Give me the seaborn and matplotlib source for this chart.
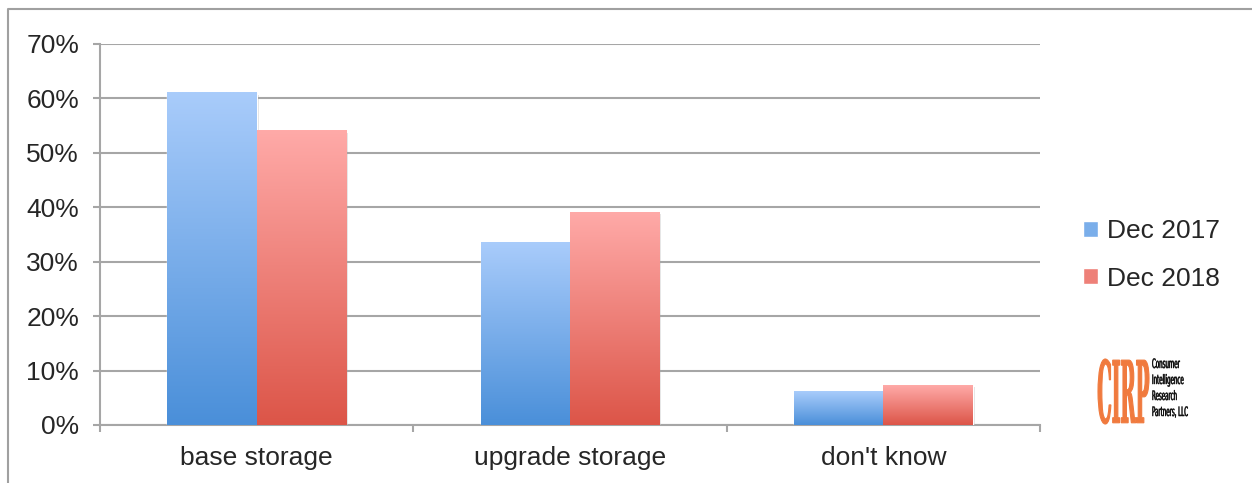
import numpy as np
import pandas as pd
import matplotlib
matplotlib.use('Agg')
import matplotlib.pyplot as plt
import seaborn as sns
from matplotlib.patches import Patch, PathPatch
from matplotlib.textpath import TextPath
from matplotlib.font_manager import FontProperties
from matplotlib.transforms import Affine2D
from matplotlib.lines import Line2D
from matplotlib.ticker import PercentFormatter, FixedLocator

# Datos
categories = ['base storage', 'upgrade storage', "don't know"]
periods = ['Dec 2017', 'Dec 2018']
dec_2017 = [0.61, 0.336, 0.062]
dec_2018 = [0.541, 0.391, 0.073]

# Colores del degradado (arriba, abajo)
grad_colors = {
    'Dec 2017': ('#a9ccfb', '#4a8fd9'),
    'Dec 2018': ('#ffaaa8', '#dc5548'),
}

df = pd.DataFrame({
    'category': categories * 2,
    'period': [periods[0]] * 3 + [periods[1]] * 3,
    'value': dec_2017 + dec_2018,
})

sns.set_style('white')
plt.rcParams['font.family'] = ['Liberation Sans', 'DejaVu Sans']

W, H = 1252, 483
fig = plt.figure(figsize=(W / 100, H / 100), dpi=100)
ax = fig.add_axes([100 / W, 58 / H, 940 / W, 381 / H])

sns.barplot(data=df, x='category', y='value', hue='period', order=categories,
            hue_order=periods, palette=[grad_colors[p][1] for p in periods],
            width=0.57, gap=0, ax=ax, legend=False, saturation=1, zorder=3)

# Degradado vertical en cada barra
for period, cont in zip(periods, ax.containers):
    top, bottom = [np.array(matplotlib.colors.to_rgb(c)) for c in grad_colors[period]]
    t = np.linspace(0, 1, 256)[:, None, None]
    img = bottom * (1 - t) + top * t
    for bar in cont:
        x0, w, h = bar.get_x(), bar.get_width(), bar.get_height()
        # sombra suave
        ax.add_patch(plt.Rectangle((x0 + 0.006, -0.004), w, h, color='#000000',
                                   alpha=0.12, zorder=2, lw=0))
        ax.imshow(img, extent=(x0, x0 + w, 0, h), origin='lower', aspect='auto',
                  interpolation='bilinear', zorder=4)

ax.set_xlim(-0.5, 2.5)
ax.set_ylim(0, 0.7)
ax.set_aspect('auto')

grid_c = '#a6a6a6'
ax.set_yticks(np.arange(0, 0.71, 0.1))
ax.yaxis.set_major_formatter(PercentFormatter(1.0, decimals=0))
ax.yaxis.grid(True, color=grid_c, lw=1.5, zorder=0)
ax.set_axisbelow(True)
ax.tick_params(axis='y', length=5, width=1.5, color=grid_c, pad=10, labelsize=19, left=True)
ax.tick_params(axis='x', which='major', length=0, pad=15, labelsize=19)
ax.xaxis.set_minor_locator(FixedLocator([-0.5, 0.5, 1.5, 2.5]))
ax.tick_params(axis='x', which='minor', length=5, width=1.5, color=grid_c, bottom=True)
ax.set_xlabel('')
ax.set_ylabel('')
for s in ['top', 'right']:
    ax.spines[s].set_visible(False)
for s in ['left', 'bottom']:
    ax.spines[s].set_color(grid_c)
    ax.spines[s].set_linewidth(1.5)

# Leyenda
handles = [Patch(facecolor=matplotlib.colors.to_hex(
    (np.array(matplotlib.colors.to_rgb(grad_colors[p][0])) +
     np.array(matplotlib.colors.to_rgb(grad_colors[p][1]))) / 2)) for p in periods]
fig.legend(handles, periods, loc='upper left', bbox_to_anchor=(1083 / W, 1 - 219 / H),
           frameon=False, fontsize=19, handlelength=0.55, handleheight=0.55,
           handletextpad=0.35, labelspacing=0.9, borderpad=0, borderaxespad=0)

# Marco del gráfico
fig.add_artist(Line2D([8 / W, 8 / W, 1], [0, 1 - 9 / H, 1 - 9 / H],
                      transform=fig.transFigure, color='#a0a0a0', lw=1.5))


# Logo CIRP
def fit_text(s, x0, ytop, w, h, color, prop, stroke):
    tp = TextPath((0, 0), s, size=50, prop=prop)
    bb = tp.get_extents()
    tr = (Affine2D().translate(-bb.x0, -bb.y0)
          .scale(w / bb.width, h / bb.height)
          .translate(x0, H - ytop - h))
    fig.add_artist(PathPatch(tp, transform=tr, facecolor=color, edgecolor=color, lw=stroke))


def squeezed_text(s, x0, ybase, size, sx, color, prop, stroke):
    tp = TextPath((0, 0), s, size=size, prop=prop)
    tr = Affine2D().scale(sx, 1).translate(x0, H - ybase)
    fig.add_artist(PathPatch(tp, transform=tr, facecolor=color, edgecolor=color, lw=stroke))


fit_text('CIRP', 1098, 359, 51, 65, '#f07a3e',
         FontProperties(family='DejaVu Serif', weight='bold'), 0.8)
small = FontProperties(family='DejaVu Sans')
for i, line in enumerate(['Consumer', 'Intelligence', 'Research', 'Partners, LLC']):
    squeezed_text(line, 1152, 368 + i * 16, 13, 0.42, '#111111', small, 0.4)

fig.savefig('out.png', dpi=100)
